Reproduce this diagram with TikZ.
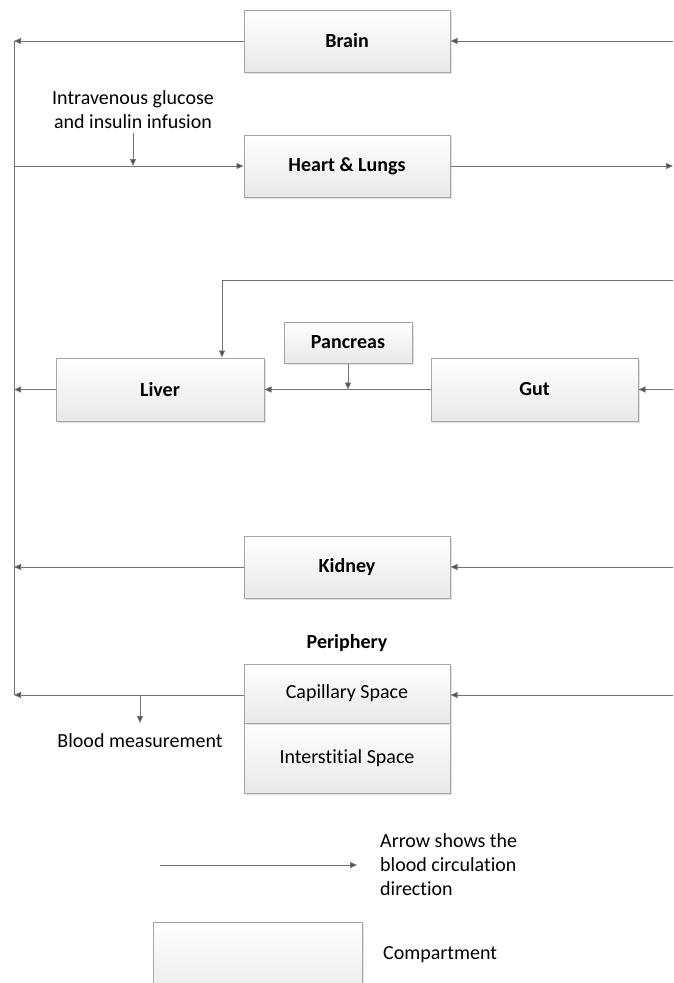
\documentclass[tikz,border=0pt]{standalone}
\usepackage{fontspec}
\setmainfont{Carlito}[Ligatures={NoCommon}]
\usetikzlibrary{arrows.meta,shadows}
\tikzset{
  comp/.style={draw=black!35, line width=1pt, top color=white, bottom color=black!9,
    minimum width=206pt, minimum height=62pt, inner sep=0pt,
    drop shadow={shadow xshift=2pt, shadow yshift=-2pt, fill=black!20, opacity=0.6}},
  flow/.style={draw=black!55, line width=0.9pt, -{Triangle[length=7pt,width=6pt,fill=black!70]}},
  plain/.style={draw=black!55, line width=0.9pt},
  lbl/.style={font=\fontsize{20}{24}\selectfont, align=center, inner sep=0pt},
  blbl/.style={font=\fontsize{20}{24}\selectfont\bfseries}
}
\begin{document}
\begin{tikzpicture}[x=1pt,y=-1pt]
\clip (0,0) rectangle (673,983);
\useasboundingbox (0,0) rectangle (673,983);

% compartments
\node[comp, blbl] (brain) at (347,41) {Brain};
\node[comp, blbl] (heart) at (347,166) {Heart \& Lungs};
\node[comp, blbl, minimum width=128pt, minimum height=41pt] (pancreas) at (348,342.5) {Pancreas};
\node[comp, blbl, minimum width=208pt, minimum height=63pt] (liver) at (160,389.5) {Liver};
\node[comp, blbl, minimum width=207pt, minimum height=63pt] (gut) at (534.5,389.5) {Gut};
\node[comp, blbl] (kidney) at (347,567) {Kidney};
\node[blbl] (periph) at (347,643) {Periphery};
\node[comp, lbl, minimum height=70pt] (inter) at (347,758) {Interstitial Space};
\node[comp, lbl, minimum height=59pt] (cap) at (347,693.5) {Capillary Space};

% coordinates
\coordinate (bTop) at (14,41);
\coordinate (bHeart) at (14,166);
\coordinate (bLiver) at (14,389.5);
\coordinate (bKidney) at (14,567);
\coordinate (bCap) at (14,695);
\coordinate (rBrain) at (673,41);
\coordinate (rHeart) at (673,166);
\coordinate (rPort) at (673,280);
\coordinate (lPort) at (222,280);
\coordinate (rGut) at (673,389.5);
\coordinate (rKidney) at (673,567);
\coordinate (rCap) at (673,695);

% left return bus
\draw[plain] (bTop) -- (bCap);

% brain
\draw[flow] (rBrain) -- (brain.east);
\draw[flow] (brain.west) -- (bTop);
% heart
\draw[flow] (bHeart) -- (heart.west);
\draw[flow] (heart.east) -- (rHeart);
% infusion
\node[lbl] (iv) at (133,110) {Intravenous glucose\\and insulin infusion};
\coordinate (ivTop) at (133,133);
\draw[flow] (ivTop) -- (ivTop |- bHeart);
% liver / portal
\draw[flow] (rPort) -- (lPort) -- (lPort |- liver.north);
\draw[flow] (gut.west) -- (liver.east);
\draw[flow] (pancreas.south) -- (pancreas.south |- liver.east);
\draw[flow] (rGut) -- (gut.east);
\draw[flow] (liver.west) -- (bLiver);
% kidney
\draw[flow] (rKidney) -- (kidney.east);
\draw[flow] (kidney.west) -- (bKidney);
% periphery
\draw[flow] (rCap) -- (cap.east |- rCap);
\draw[flow] (cap.west |- bCap) -- (bCap);
\coordinate (bmTop) at (140,695);
\coordinate (bmBot) at (140,723);
\draw[flow] (bmTop) -- (bmBot);
\node[lbl] (bm) at (140,741) {Blood measurement};

% legend
\coordinate (legA) at (160,865);
\coordinate (legB) at (357,865);
\draw[flow] (legA) -- (legB);
\node[lbl, align=left, anchor=west] (legT) at (380,865) {Arrow shows the\\blood circulation\\direction};
\node[comp, minimum width=209pt, minimum height=80pt] (legBox) at (257.5,962) {};
\node[lbl, anchor=west] (legC) at (383,955) {Compartment};
\end{tikzpicture}
\end{document}
